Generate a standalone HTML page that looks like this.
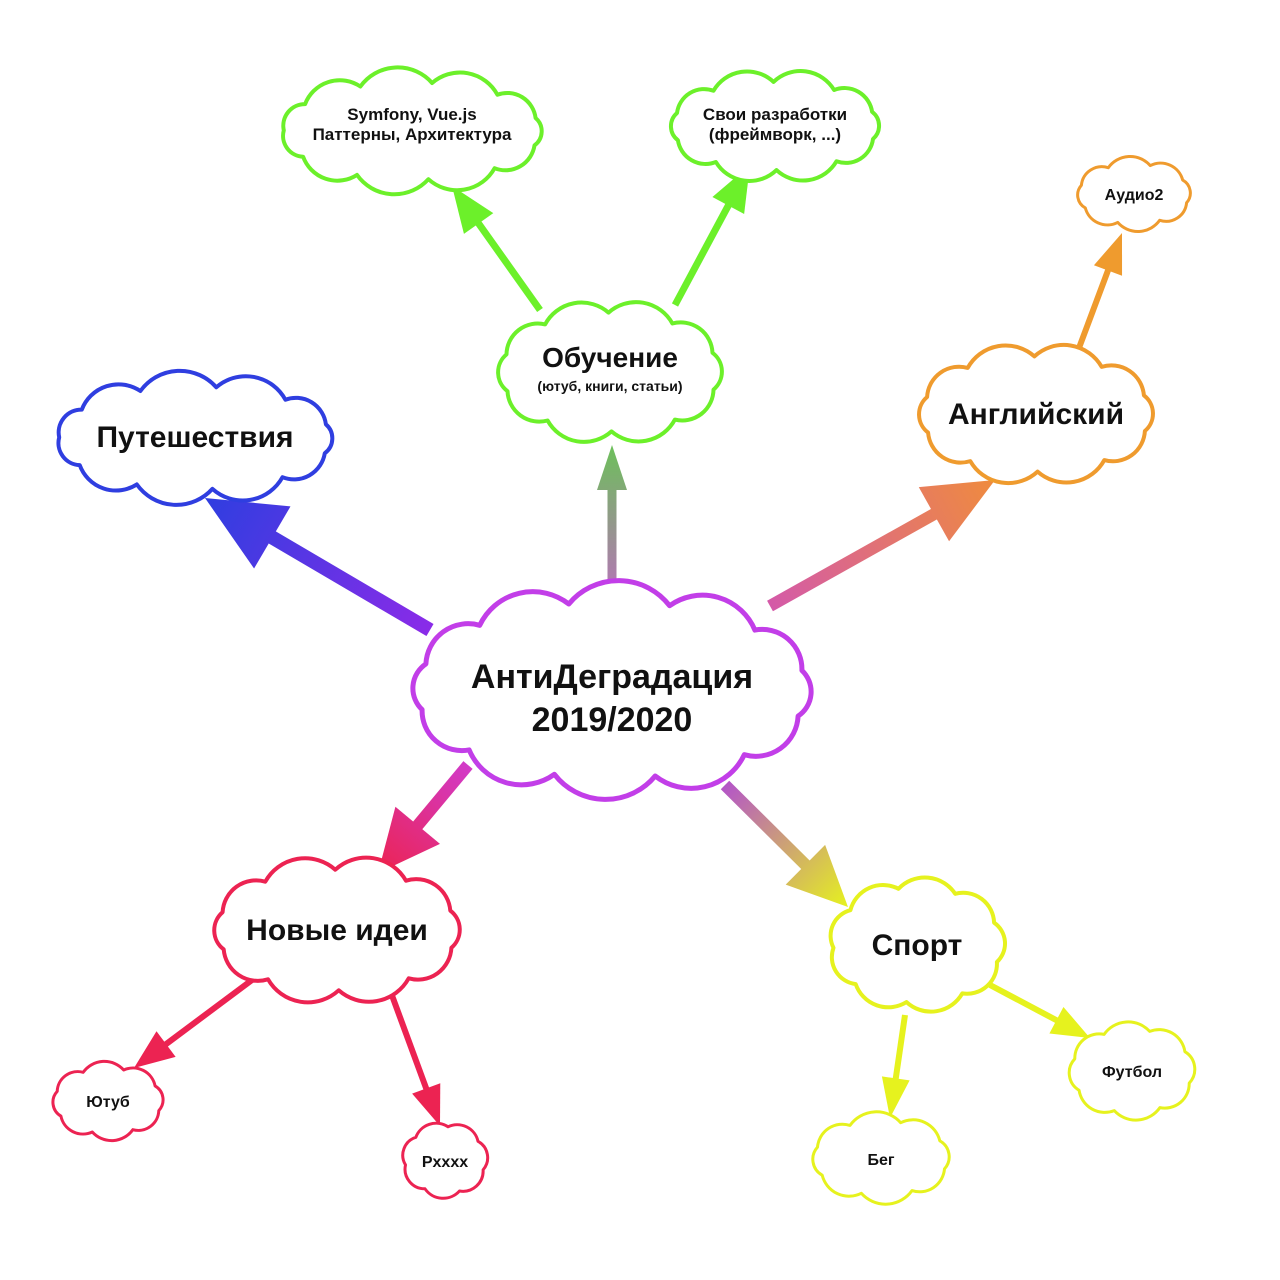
<!DOCTYPE html>
<html><head><meta charset="utf-8"><style>
html,body{margin:0;padding:0;background:#fff;}
svg{display:block;}
text{font-family:"Liberation Sans","DejaVu Sans",sans-serif;font-weight:bold;fill:#111;text-anchor:middle;}
</style></head><body>
<svg id="map" width="1280" height="1280" viewBox="0 0 1280 1280">
<defs id="defs"></defs>
</svg>
<script>
const NS="http://www.w3.org/2000/svg";
const svg=document.getElementById('map');
const defs=document.getElementById('defs');
const nodeIds=['center','learning','symfony','own-dev','english','audio','travel','ideas','youtube','pxxxx','sport','football','running'];
const nodeGeom=[[612,690,205,98],[610,372,114,66],[412,131,135,54],[775,126,108,49],[1036,414,120,64],[1134,194,58,33],[195,438,143,57],[337,930,126,67],[108,1101,56,36],[445,1160,42,37],[917,945,88,64],[1132,1071,63,46],[881,1158,70,41]];
const nodeColors=['#c23ee8','#6cf02a','#6cf02a','#6cf02a','#ef9b2e','#ef9b2e','#2f3ee0','#ec2352','#ec2352','#ec2352','#e6f21e','#e6f21e','#e6f21e'];
const nodeText=[
 [['АнтиДеградация',688,34],['2019/2020',731,34]],
 [['Обучение',367,28],['(ютуб, книги, статьи)',391,14]],
 [['Symfony, Vue.js',120,17],['Паттерны, Архитектура',140,17]],
 [['Свои разработки',120,17],['(фреймворк, ...)',140,17]],
 [['Английский',424,30]],
 [['Аудио2',200,16]],
 [['Путешествия',447,30]],
 [['Новые идеи',940,30]],
 [['Ютуб',1107,16]],
 [['Pxxxx',1167,16]],
 [['Спорт',955,30]],
 [['Футбол',1077,16]],
 [['Бег',1165,16]]
];
const nodeBumps=[12,10,11,10,10,8,11,10,8,7,9,8,8];
const nodeStroke=[5,4,4,4,4,3,4,4,3,3,4,3,3];
const arrowPts=[[430,630,205,498],[612,583,612,445],[770,606,995,480],[468,765,378,873],[725,785,848,907],[540,310,452,186],[675,305,750,165],[1076,356,1122,233],[252,980,134,1068],[390,990,440,1126],[905,1015,890,1118],[990,985,1090,1038]];
const arrowCols=[['#8a2be8','#2f3ee0'],['#b07ab0','#6cc05a'],['#d45aa8','#ef8b3e'],['#d23ac8','#ec2352'],['#b455c8','#e6f21e'],['#6cf02a','#6cf02a'],['#6cf02a','#6cf02a'],['#ef9b2e','#ef9b2e'],['#ec2352','#ec2352'],['#ec2352','#ec2352'],['#e6f21e','#e6f21e'],['#e6f21e','#e6f21e']];
const arrowNames=['arrow-travel','arrow-learning','arrow-english','arrow-ideas','arrow-sport','arrow-symfony','arrow-own-dev','arrow-audio','arrow-youtube','arrow-pxxxx','arrow-running','arrow-football'];
const arrowSize=[[14,78,72],[9,45,30],[12,70,62],[12,62,58],[12,60,56],[7,46,36],[7,46,36],[6,40,30],[6,40,32],[6,40,30],[6,40,28],[6,38,30]];

arrowPts.forEach((a,i)=>{
  const [x1,y1,x2,y2]=a;
  const g=document.createElementNS(NS,'linearGradient');
  g.setAttribute('id','g'+i);g.setAttribute('gradientUnits','userSpaceOnUse');
  g.setAttribute('x1',x1);g.setAttribute('y1',y1);g.setAttribute('x2',x2);g.setAttribute('y2',y2);
  g.innerHTML=`<stop offset="0" stop-color="${arrowCols[i][0]}"/><stop offset="1" stop-color="${arrowCols[i][1]}"/>`;
  defs.appendChild(g);
  const dx=x2-x1,dy=y2-y1,L=Math.hypot(dx,dy),ux=dx/L,uy=dy/L,px=-uy,py=ux;
  const [sw,hl,hw]=arrowSize[i];
  const bx=x2-ux*hl,by=y2-uy*hl;
  const grp=document.createElementNS(NS,'g');
  
  
  const ln=document.createElementNS(NS,'line');
  ln.setAttribute('x1',x1);ln.setAttribute('y1',y1);ln.setAttribute('x2',bx+ux*2);ln.setAttribute('y2',by+uy*2);
  ln.setAttribute('stroke','url(#g'+i+')');ln.setAttribute('stroke-width',sw);
  grp.appendChild(ln);
  const tri=document.createElementNS(NS,'polygon');
  tri.setAttribute('points',`${x2},${y2} ${bx+px*hw/2},${by+py*hw/2} ${bx-px*hw/2},${by-py*hw/2}`);
  tri.setAttribute('fill','url(#g'+i+')');
  grp.appendChild(tri);
  svg.appendChild(grp);
});

function cloudPath(cx,cy,rx,ry,n){
  const pts=[];
  for(let k=0;k<n;k++){const t=k/n*2*Math.PI+0.3;pts.push([cx+rx*0.95*Math.cos(t),cy+ry*0.9*Math.sin(t)]);}
  let d=`M${pts[0][0].toFixed(1)},${pts[0][1].toFixed(1)}`;
  for(let k=0;k<n;k++){
    const p=pts[(k+1)%n],q=pts[k];
    const ch=Math.hypot(p[0]-q[0],p[1]-q[1]);
    const r=ch*0.64;
    d+=` A${r.toFixed(1)},${r.toFixed(1)} 0 0 1 ${p[0].toFixed(1)},${p[1].toFixed(1)}`;
  }
  return d+'Z';
}
nodeIds.forEach((id,i)=>{
  const [cx,cy,rx,ry]=nodeGeom[i];
  const grp=document.createElementNS(NS,'g');
  
  
  const p=document.createElementNS(NS,'path');
  p.setAttribute('d',cloudPath(cx,cy,rx,ry,nodeBumps[i]));
  p.setAttribute('fill','#fff');p.setAttribute('stroke',nodeColors[i]);
  p.setAttribute('stroke-width',nodeStroke[i]);p.setAttribute('stroke-linejoin','round');
  grp.appendChild(p);
  nodeText[i].forEach((t,j)=>{
    const tx=document.createElementNS(NS,'text');
    tx.setAttribute('x',cx);tx.setAttribute('y',t[1]);tx.setAttribute('font-size',t[2]);
    
    
    tx.textContent=t[0];
    grp.appendChild(tx);
  });
  svg.appendChild(grp);
});
</script>
</body></html>
